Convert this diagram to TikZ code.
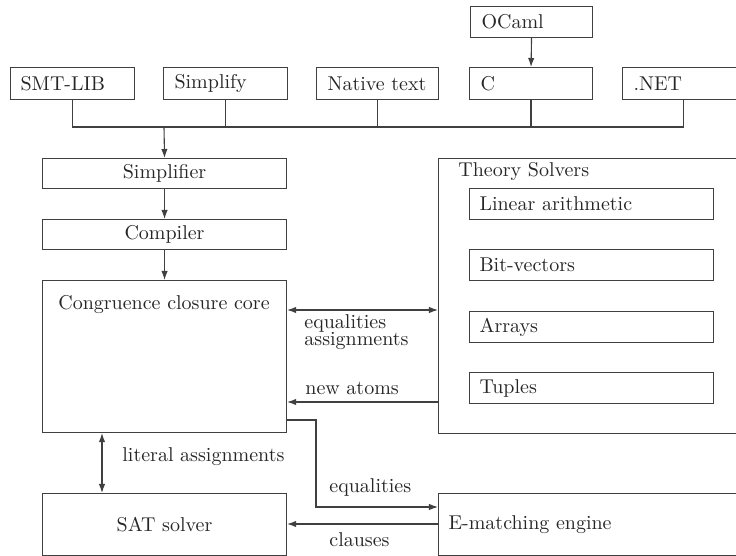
\documentclass[tikz,border=0pt]{standalone}
\usetikzlibrary{arrows.meta,calc}
\begin{document}
\begin{tikzpicture}[x=0.5pt,y=-0.5pt,
  every node/.style={font=\fontsize{10}{12}\selectfont, text=black!85},
  bx/.style={draw=black!75, line width=0.55pt, rectangle, anchor=north west, inner ysep=0pt},
  lb/.style={inner sep=0pt},
  ln/.style={draw=black!75, line width=0.55pt},
  ar/.style={ln, -{Latex[length=4.5pt,width=3.2pt]}},
  dar/.style={ln, {Latex[length=4.5pt,width=3.2pt]}-{Latex[length=4.5pt,width=3.2pt]}}]
\useasboundingbox (0,0) rectangle (736,556);
\clip (0,0) rectangle (736,556);
% top boxes
\node[bx, minimum width=61pt, minimum height=15.5pt, text width=50pt, inner xsep=5.5pt, align=left] (ocaml) at (470,6) {OCaml};
\node[bx, minimum width=62pt, minimum height=16pt, text width=52pt, inner xsep=5pt, align=left] (smt) at (10,67) {SMT-LIB};
\node[bx, minimum width=62pt, minimum height=16pt, text width=51pt, inner xsep=5.5pt, align=left] (simp) at (163,67) {Simplify};
\node[bx, minimum width=61pt, minimum height=16pt, text width=50pt, inner xsep=5.5pt, align=left] (nat) at (316,67) {Native text};
\node[bx, minimum width=61.5pt, minimum height=16pt, text width=50.5pt, inner xsep=5.5pt, align=left] (cc2) at (469,67) {C};
\node[bx, minimum width=61pt, minimum height=16pt, text width=50pt, inner xsep=5.5pt, align=left] (net) at (622,67) {.NET};
% bus
\coordinate (bus) at (164,127);
\draw[ar] (ocaml.south) -- (cc2.north);
\draw[ln] (smt.south) |- (net.south |- bus) -- (net.south);
\draw[ln] (simp.south) -- (simp.south |- bus);
\draw[ln] (nat.south) -- (nat.south |- bus);
\draw[ln] (cc2.south) -- (cc2.south |- bus);
% left column
\node[bx, minimum width=122pt, minimum height=15pt, align=center] (simpl) at (42,158) {Simplifier};
\node[bx, minimum width=122pt, minimum height=15pt, align=center] (comp) at (42,219) {Compiler};
\node[bx, minimum width=122pt, minimum height=76pt] (core) at (42,280) {};
\node[lb] (coret) at (164,305) {Congruence closure core};
\node[bx, minimum width=122pt, minimum height=31pt, align=center] (sat) at (42,493) {SAT solver};
\draw[ar] (bus) -- (simpl.north);
\draw[ar] (simpl.south) -- (comp.north);
\draw[ar] (comp.south) -- (core.north);
% theory solvers
\node[bx, minimum width=160pt, minimum height=137.5pt] (ts) at (438,158) {};
\node[lb, anchor=west] (tst) at (458,172) {Theory Solvers};
\node[bx, minimum width=122pt, minimum height=15.5pt, text width=112pt, inner xsep=5pt, align=left] (lin) at (469,188) {Linear arithmetic};
\node[bx, minimum width=122pt, minimum height=15.5pt, text width=112pt, inner xsep=5pt, align=left] (bv) at (469,249) {Bit-vectors};
\node[bx, minimum width=122pt, minimum height=15.5pt, text width=112pt, inner xsep=5pt, align=left] (arr) at (469,311) {Arrays};
\node[bx, minimum width=122pt, minimum height=15.5pt, text width=112pt, inner xsep=5pt, align=left] (tup) at (469,372) {Tuples};
% E-matching
\node[bx, minimum width=160pt, minimum height=31pt, text width=150pt, inner xsep=4.5pt, align=left] (em) at (438,493) {E-matching engine};
% connectors
\coordinate (y1) at (0,310);
\coordinate (y2) at (0,402);
\coordinate (y3) at (0,420);
\coordinate (y4) at (0,507);
\coordinate (y5) at (0,524);
\coordinate (x1) at (316,0);
\coordinate (x2) at (102,0);
\draw[dar] (core.east |- y1) -- (ts.west |- y1);
\draw[ar] (ts.west |- y2) -- (core.east |- y2);
\draw[ar] (core.east |- y3) -| (x1 |- y4) -- (em.west |- y4);
\draw[ar] (em.west |- y5) -- (sat.east |- y5);
\draw[dar] (core.south -| x2) -- (sat.north -| x2);
% labels
\node[lb, anchor=north west, align=left, font=\fontsize{10}{8.7}\selectfont] (l1) at (304,314) {equalities\\assignments};
\node[lb, anchor=base west] (l2) at (305,395) {new atoms};
\node[lb, anchor=base west] (l3) at (329,493) {equalities};
\node[lb, anchor=base west] (l4) at (329,547) {clauses};
\node[lb, anchor=base west] (l5) at (122,462) {literal assignments};
\end{tikzpicture}
\end{document}
